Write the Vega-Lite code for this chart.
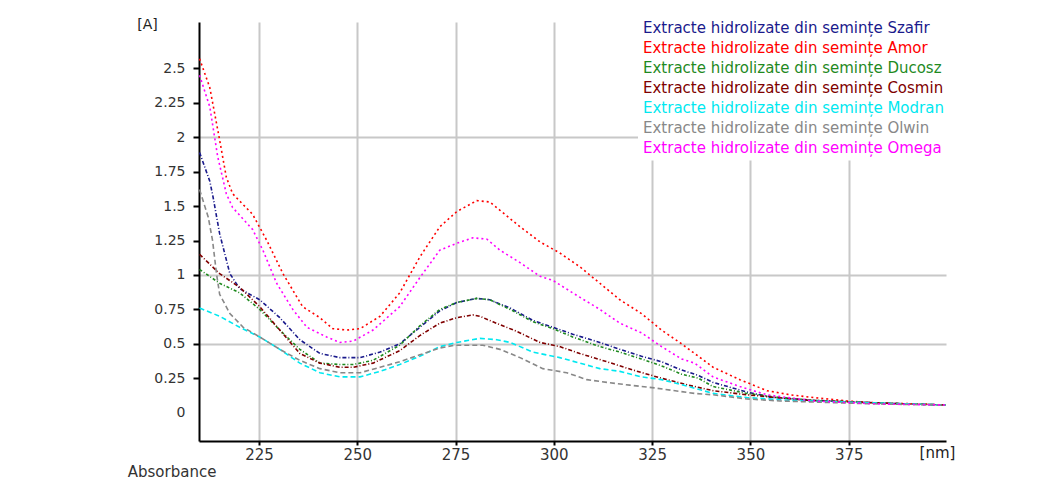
{
  "$schema": "https://vega.github.io/schema/vega-lite/v6.json",
  "width": 747,
  "height": 419,
  "autosize": {"type": "none"},
  "padding": {"left": 199, "top": 22, "right": 108, "bottom": 60},
  "background": "white",
  "config": {"view": {"stroke": null}, "font": "DejaVu Sans"},
  "title": {"text": "Absorbance", "orient": "bottom", "anchor": "start", "fontSize": 15, "fontWeight": "normal", "color": "#333", "offset": 3, "dx": -9},
  "data": {"values": [
    {"s":"Szafir","nm":209.9,"A":1.89},{"s":"Szafir","nm":212.5,"A":1.68},{"s":"Szafir","nm":213.3,"A":1.57},{"s":"Szafir","nm":215.0,"A":1.30},{"s":"Szafir","nm":217.6,"A":1.01},{"s":"Szafir","nm":220.1,"A":0.90},{"s":"Szafir","nm":225.2,"A":0.82},{"s":"Szafir","nm":230.3,"A":0.69},{"s":"Szafir","nm":235.4,"A":0.53},{"s":"Szafir","nm":240.5,"A":0.43},{"s":"Szafir","nm":245.6,"A":0.40},{"s":"Szafir","nm":250.7,"A":0.40},{"s":"Szafir","nm":255.8,"A":0.44},{"s":"Szafir","nm":260.8,"A":0.50},{"s":"Szafir","nm":265.9,"A":0.62},{"s":"Szafir","nm":271.0,"A":0.74},{"s":"Szafir","nm":275.3,"A":0.80},{"s":"Szafir","nm":280.4,"A":0.83},{"s":"Szafir","nm":283.7,"A":0.82},{"s":"Szafir","nm":288.9,"A":0.76},{"s":"Szafir","nm":294.7,"A":0.67},{"s":"Szafir","nm":299.8,"A":0.62},{"s":"Szafir","nm":304.8,"A":0.57},{"s":"Szafir","nm":311.7,"A":0.51},{"s":"Szafir","nm":316.8,"A":0.46},{"s":"Szafir","nm":322.3,"A":0.41},{"s":"Szafir","nm":327.4,"A":0.37},{"s":"Szafir","nm":332.5,"A":0.31},{"s":"Szafir","nm":336.8,"A":0.27},{"s":"Szafir","nm":340.5,"A":0.22},{"s":"Szafir","nm":349.1,"A":0.15},{"s":"Szafir","nm":355.8,"A":0.11},{"s":"Szafir","nm":366.0,"A":0.09},{"s":"Szafir","nm":383.0,"A":0.07},{"s":"Szafir","nm":399.7,"A":0.056},
    {"s":"Amor","nm":209.9,"A":2.57},{"s":"Amor","nm":212.5,"A":2.36},{"s":"Amor","nm":215.0,"A":1.98},{"s":"Amor","nm":216.7,"A":1.71},{"s":"Amor","nm":218.3,"A":1.59},{"s":"Amor","nm":223.4,"A":1.44},{"s":"Amor","nm":227.0,"A":1.25},{"s":"Amor","nm":231.1,"A":1.01},{"s":"Amor","nm":233.6,"A":0.89},{"s":"Amor","nm":236.1,"A":0.77},{"s":"Amor","nm":240.5,"A":0.69},{"s":"Amor","nm":243.8,"A":0.61},{"s":"Amor","nm":247.4,"A":0.60},{"s":"Amor","nm":250.7,"A":0.61},{"s":"Amor","nm":255.8,"A":0.70},{"s":"Amor","nm":260.8,"A":0.87},{"s":"Amor","nm":265.9,"A":1.13},{"s":"Amor","nm":271.0,"A":1.35},{"s":"Amor","nm":275.3,"A":1.46},{"s":"Amor","nm":280.4,"A":1.54},{"s":"Amor","nm":283.7,"A":1.53},{"s":"Amor","nm":286.3,"A":1.47},{"s":"Amor","nm":291.4,"A":1.35},{"s":"Amor","nm":296.5,"A":1.24},{"s":"Amor","nm":301.5,"A":1.16},{"s":"Amor","nm":306.6,"A":1.06},{"s":"Amor","nm":311.7,"A":0.94},{"s":"Amor","nm":316.8,"A":0.82},{"s":"Amor","nm":322.3,"A":0.72},{"s":"Amor","nm":327.4,"A":0.60},{"s":"Amor","nm":332.5,"A":0.50},{"s":"Amor","nm":335.8,"A":0.43},{"s":"Amor","nm":340.5,"A":0.33},{"s":"Amor","nm":347.3,"A":0.24},{"s":"Amor","nm":354.2,"A":0.16},{"s":"Amor","nm":360.1,"A":0.13},{"s":"Amor","nm":366.0,"A":0.11},{"s":"Amor","nm":374.6,"A":0.085},{"s":"Amor","nm":383.0,"A":0.07},{"s":"Amor","nm":395.0,"A":0.063},
    {"s":"Ducosz","nm":209.9,"A":1.04},{"s":"Ducosz","nm":215.0,"A":0.94},{"s":"Ducosz","nm":220.1,"A":0.87},{"s":"Ducosz","nm":225.2,"A":0.75},{"s":"Ducosz","nm":230.3,"A":0.60},{"s":"Ducosz","nm":235.4,"A":0.46},{"s":"Ducosz","nm":240.5,"A":0.36},{"s":"Ducosz","nm":245.6,"A":0.35},{"s":"Ducosz","nm":249.0,"A":0.35},{"s":"Ducosz","nm":254.0,"A":0.38},{"s":"Ducosz","nm":260.8,"A":0.49},{"s":"Ducosz","nm":265.9,"A":0.63},{"s":"Ducosz","nm":271.0,"A":0.75},{"s":"Ducosz","nm":275.3,"A":0.80},{"s":"Ducosz","nm":280.4,"A":0.83},{"s":"Ducosz","nm":283.7,"A":0.82},{"s":"Ducosz","nm":288.9,"A":0.75},{"s":"Ducosz","nm":294.7,"A":0.66},{"s":"Ducosz","nm":299.8,"A":0.61},{"s":"Ducosz","nm":304.8,"A":0.55},{"s":"Ducosz","nm":311.7,"A":0.48},{"s":"Ducosz","nm":316.8,"A":0.44},{"s":"Ducosz","nm":322.3,"A":0.39},{"s":"Ducosz","nm":327.4,"A":0.34},{"s":"Ducosz","nm":332.5,"A":0.28},{"s":"Ducosz","nm":336.8,"A":0.25},{"s":"Ducosz","nm":340.5,"A":0.19},{"s":"Ducosz","nm":349.1,"A":0.14},{"s":"Ducosz","nm":357.5,"A":0.11},{"s":"Ducosz","nm":366.0,"A":0.09},{"s":"Ducosz","nm":383.0,"A":0.07},{"s":"Ducosz","nm":399.7,"A":0.056},
    {"s":"Cosmin","nm":209.9,"A":1.15},{"s":"Cosmin","nm":215.0,"A":1.01},{"s":"Cosmin","nm":220.1,"A":0.91},{"s":"Cosmin","nm":225.2,"A":0.77},{"s":"Cosmin","nm":230.3,"A":0.60},{"s":"Cosmin","nm":235.4,"A":0.43},{"s":"Cosmin","nm":240.5,"A":0.36},{"s":"Cosmin","nm":245.6,"A":0.33},{"s":"Cosmin","nm":249.0,"A":0.33},{"s":"Cosmin","nm":254.0,"A":0.36},{"s":"Cosmin","nm":260.8,"A":0.45},{"s":"Cosmin","nm":265.9,"A":0.56},{"s":"Cosmin","nm":271.0,"A":0.65},{"s":"Cosmin","nm":275.3,"A":0.69},{"s":"Cosmin","nm":279.4,"A":0.71},{"s":"Cosmin","nm":281.2,"A":0.70},{"s":"Cosmin","nm":284.5,"A":0.66},{"s":"Cosmin","nm":290.6,"A":0.59},{"s":"Cosmin","nm":296.5,"A":0.51},{"s":"Cosmin","nm":301.5,"A":0.48},{"s":"Cosmin","nm":306.6,"A":0.43},{"s":"Cosmin","nm":313.5,"A":0.37},{"s":"Cosmin","nm":320.1,"A":0.31},{"s":"Cosmin","nm":327.4,"A":0.25},{"s":"Cosmin","nm":334.3,"A":0.20},{"s":"Cosmin","nm":340.5,"A":0.16},{"s":"Cosmin","nm":349.1,"A":0.13},{"s":"Cosmin","nm":364.4,"A":0.09},{"s":"Cosmin","nm":383.0,"A":0.07},{"s":"Cosmin","nm":399.7,"A":0.056},
    {"s":"Modran","nm":209.9,"A":0.76},{"s":"Modran","nm":215.0,"A":0.70},{"s":"Modran","nm":220.1,"A":0.62},{"s":"Modran","nm":225.2,"A":0.55},{"s":"Modran","nm":230.3,"A":0.46},{"s":"Modran","nm":235.4,"A":0.36},{"s":"Modran","nm":240.5,"A":0.29},{"s":"Modran","nm":245.6,"A":0.26},{"s":"Modran","nm":250.7,"A":0.26},{"s":"Modran","nm":255.8,"A":0.30},{"s":"Modran","nm":260.8,"A":0.35},{"s":"Modran","nm":265.9,"A":0.41},{"s":"Modran","nm":271.0,"A":0.48},{"s":"Modran","nm":275.3,"A":0.51},{"s":"Modran","nm":281.2,"A":0.54},{"s":"Modran","nm":285.5,"A":0.53},{"s":"Modran","nm":288.9,"A":0.51},{"s":"Modran","nm":294.7,"A":0.44},{"s":"Modran","nm":301.5,"A":0.40},{"s":"Modran","nm":306.6,"A":0.36},{"s":"Modran","nm":311.7,"A":0.32},{"s":"Modran","nm":316.8,"A":0.30},{"s":"Modran","nm":322.3,"A":0.26},{"s":"Modran","nm":327.4,"A":0.24},{"s":"Modran","nm":334.3,"A":0.19},{"s":"Modran","nm":340.5,"A":0.14},{"s":"Modran","nm":349.1,"A":0.11},{"s":"Modran","nm":360.1,"A":0.09},{"s":"Modran","nm":383.0,"A":0.07},{"s":"Modran","nm":399.7,"A":0.056},
    {"s":"Olwin","nm":209.9,"A":1.62},{"s":"Olwin","nm":212.1,"A":1.42},{"s":"Olwin","nm":213.2,"A":1.25},{"s":"Olwin","nm":214.2,"A":1.01},{"s":"Olwin","nm":215.0,"A":0.86},{"s":"Olwin","nm":217.6,"A":0.72},{"s":"Olwin","nm":221.0,"A":0.62},{"s":"Olwin","nm":225.2,"A":0.55},{"s":"Olwin","nm":230.3,"A":0.46},{"s":"Olwin","nm":235.4,"A":0.38},{"s":"Olwin","nm":240.5,"A":0.32},{"s":"Olwin","nm":245.6,"A":0.29},{"s":"Olwin","nm":250.7,"A":0.29},{"s":"Olwin","nm":255.8,"A":0.33},{"s":"Olwin","nm":260.8,"A":0.37},{"s":"Olwin","nm":265.9,"A":0.42},{"s":"Olwin","nm":271.0,"A":0.47},{"s":"Olwin","nm":274.8,"A":0.49},{"s":"Olwin","nm":281.9,"A":0.49},{"s":"Olwin","nm":286.3,"A":0.46},{"s":"Olwin","nm":291.4,"A":0.40},{"s":"Olwin","nm":297.2,"A":0.32},{"s":"Olwin","nm":303.3,"A":0.29},{"s":"Olwin","nm":308.4,"A":0.24},{"s":"Olwin","nm":313.5,"A":0.22},{"s":"Olwin","nm":319.3,"A":0.20},{"s":"Olwin","nm":325.6,"A":0.18},{"s":"Olwin","nm":335.8,"A":0.14},{"s":"Olwin","nm":340.5,"A":0.13},{"s":"Olwin","nm":349.1,"A":0.10},{"s":"Olwin","nm":357.5,"A":0.085},{"s":"Olwin","nm":374.6,"A":0.07},{"s":"Olwin","nm":383.0,"A":0.063},{"s":"Olwin","nm":399.7,"A":0.056},
    {"s":"Omega","nm":209.9,"A":2.45},{"s":"Omega","nm":212.5,"A":2.22},{"s":"Omega","nm":214.5,"A":1.86},{"s":"Omega","nm":216.7,"A":1.59},{"s":"Omega","nm":218.3,"A":1.49},{"s":"Omega","nm":223.4,"A":1.33},{"s":"Omega","nm":226.0,"A":1.18},{"s":"Omega","nm":229.5,"A":0.94},{"s":"Omega","nm":233.6,"A":0.75},{"s":"Omega","nm":237.2,"A":0.62},{"s":"Omega","nm":242.2,"A":0.55},{"s":"Omega","nm":245.6,"A":0.51},{"s":"Omega","nm":249.0,"A":0.52},{"s":"Omega","nm":254.0,"A":0.60},{"s":"Omega","nm":260.8,"A":0.77},{"s":"Omega","nm":265.9,"A":0.98},{"s":"Omega","nm":271.0,"A":1.18},{"s":"Omega","nm":275.3,"A":1.23},{"s":"Omega","nm":279.4,"A":1.27},{"s":"Omega","nm":283.0,"A":1.26},{"s":"Omega","nm":286.3,"A":1.18},{"s":"Omega","nm":291.4,"A":1.09},{"s":"Omega","nm":296.5,"A":0.99},{"s":"Omega","nm":299.8,"A":0.96},{"s":"Omega","nm":304.8,"A":0.87},{"s":"Omega","nm":311.7,"A":0.75},{"s":"Omega","nm":316.8,"A":0.65},{"s":"Omega","nm":322.3,"A":0.58},{"s":"Omega","nm":327.4,"A":0.48},{"s":"Omega","nm":332.5,"A":0.39},{"s":"Omega","nm":335.8,"A":0.36},{"s":"Omega","nm":340.5,"A":0.26},{"s":"Omega","nm":347.3,"A":0.19},{"s":"Omega","nm":354.2,"A":0.13},{"s":"Omega","nm":366.0,"A":0.085},{"s":"Omega","nm":383.0,"A":0.063},{"s":"Omega","nm":399.7,"A":0.056}
  ]},
  "mark": {"type": "line", "strokeWidth": 1.6},
  "encoding": {
    "x": {
      "field": "nm", "type": "quantitative",
      "scale": {"domain": [209.75, 399.75], "nice": false, "zero": false},
      "axis": {
        "values": [225, 250, 275, 300, 325, 350, 375],
        "title": "[nm]", "titleX": 738, "titleY": 11, "titleAlign": "center", "titleBaseline": "middle",
        "titleFontSize": 15, "titleFontWeight": "normal", "titleColor": "#222", "titleFont": "DejaVu Sans",
        "domainColor": "black", "domainWidth": 2,
        "tickColor": "black", "tickSize": 4, "tickWidth": 2,
        "gridColor": "#c8c8c8", "gridWidth": 2,
        "labelFontSize": 15, "labelColor": "#333", "labelPadding": 2, "labelFont": "DejaVu Sans",
        "labelFlush": false, "labelOverlap": false
      }
    },
    "y": {
      "field": "A", "type": "quantitative",
      "scale": {"domain": [-0.2055, 2.837], "nice": false, "zero": false},
      "axis": {
        "values": [0, 0.25, 0.5, 0.75, 1, 1.25, 1.5, 1.75, 2, 2.25, 2.5],
        "labelExpr": "'' + datum.value",
        "title": "[A]", "titleX": -52, "titleY": 2, "titleAngle": 0, "titleAlign": "center", "titleBaseline": "middle",
        "titleFontSize": 14, "titleFontWeight": "normal", "titleColor": "#222", "titleFont": "DejaVu Sans",
        "domainColor": "black", "domainWidth": 2,
        "tickColor": "black", "tickSize": 6, "tickWidth": 2,
        "tickOpacity": {"condition": {"test": "datum.value == 0", "value": 0}, "value": 1},
        "gridColor": "#c8c8c8", "gridWidth": 2,
        "gridOpacity": {"condition": {"test": "datum.value == 0.5 || datum.value == 1 || datum.value == 2", "value": 1}, "value": 0},
        "labelFontSize": 14, "labelColor": "#333", "labelPadding": 8, "labelFont": "DejaVu Sans"
      }
    },
    "color": {
      "field": "s", "type": "nominal",
      "scale": {
        "domain": ["Szafir", "Amor", "Ducosz", "Cosmin", "Modran", "Olwin", "Omega"],
        "range": ["#1a1a8c", "#ff0000", "#1f8a1f", "#800000", "#00e8f0", "#888888", "#ff00ff"]
      },
      "legend": {
        "title": null, "orient": "none", "legendX": 439, "legendY": -5.5, "padding": 4,
        "fillColor": "white", "symbolSize": 0, "symbolOpacity": 0, "symbolStrokeWidth": 0,
        "labelOffset": -14, "labelFontSize": 15, "labelFont": "DejaVu Sans", "labelLimit": 0, "rowPadding": 4,
        "labelExpr": "'Extracte hidrolizate din semințe ' + datum.label",
        "labelColor": {"expr": "scale('color', datum.value)"}
      }
    },
    "strokeDash": {
      "field": "s", "type": "nominal",
      "scale": {
        "domain": ["Szafir", "Amor", "Ducosz", "Cosmin", "Modran", "Olwin", "Omega"],
        "range": [[4, 2, 1, 2], [2, 3], [3, 2, 1, 2], [4, 2, 1, 2], [5, 3], [5, 3], [2, 3]]
      },
      "legend": null
    }
  }
}
